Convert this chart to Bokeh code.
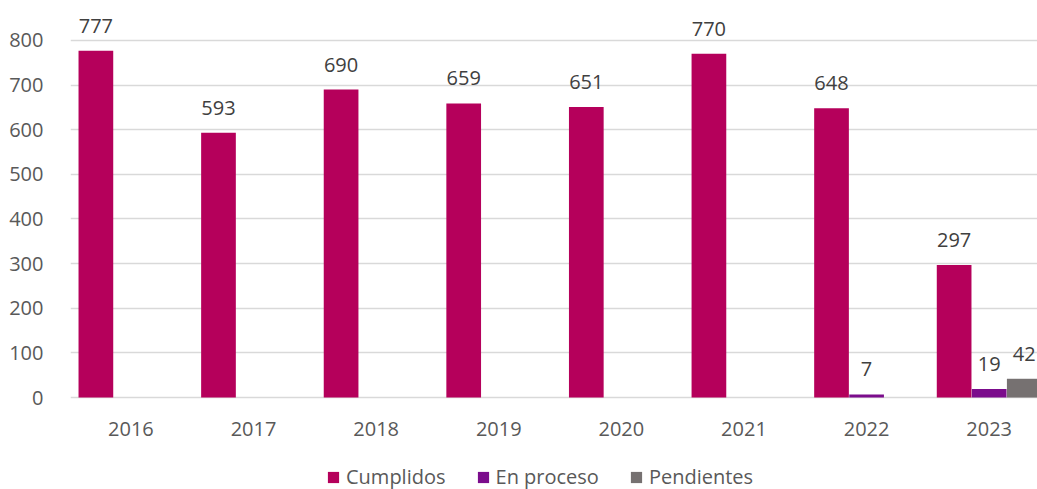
from bokeh.plotting import figure
from bokeh.models import ColumnDataSource, Range1d, FixedTicker, LabelSet, Legend, LegendItem
from bokeh.transform import dodge
from bokeh.core.properties import value
from bokeh.embed import file_html
from bokeh.resources import INLINE

years = ["2016", "2017", "2018", "2019", "2020", "2021", "2022", "2023"]
cumplidos = [777, 593, 690, 659, 651, 770, 648, 297]
en_proceso = [0, 0, 0, 0, 0, 0, 7, 19]
pendientes = [0, 0, 0, 0, 0, 0, 0, 42]
series_names = ["Cumplidos", "En proceso", "Pendientes"]
series_colors = ["#B5005B", "#7B0C8C", "#767171"]
y_ticks = [0, 100, 200, 300, 400, 500, 600, 700, 800]

FONT = "Open Sans"
TXT = "#595959"
idx = list(range(len(years)))
series = [cumplidos, en_proceso, pendientes]
offsets = [-0.286, 0.0, 0.286]
bar_w = 0.283

# frame spans the full figure height; the band below y=0 holds year labels and legend
p = figure(width=1037, height=489,
           x_range=Range1d(-0.493, 7.394), y_range=Range1d(-206.1, 889.5),
           output_backend="svg", toolbar_location=None,
           min_border_left=70, min_border_right=0, min_border_top=0, min_border_bottom=0)
p.outline_line_color = None
p.background_fill_color = "white"
p.border_fill_color = "white"

renderers = []
for name, vals, col, off in zip(series_names, series, series_colors, offsets):
    src = ColumnDataSource(dict(x=idx, v=vals))
    r = p.vbar(x=dodge("x", off), top="v", bottom=0, width=bar_w, source=src,
               fill_color=col, line_color=None)
    renderers.append(r)
    nz = [i for i, v in enumerate(vals) if v != 0]
    lsrc = ColumnDataSource(dict(x=[idx[i] for i in nz], v=[vals[i] for i in nz],
                                 t=[str(vals[i]) for i in nz]))
    lab = LabelSet(x=dodge("x", off), y="v", text="t", source=lsrc,
                   text_align="center", text_baseline="alphabetic", y_offset=18,
                   text_font=value(FONT), text_font_size=value("20px"), text_color="#404040")
    p.add_layout(lab)

# category labels (x axis)
ysrc = ColumnDataSource(dict(x=idx, y=[0] * len(idx), t=years))
p.add_layout(LabelSet(x="x", y="y", text="t", source=ysrc,
                      text_align="center", text_baseline="alphabetic", y_offset=-38,
                      text_font=value(FONT), text_font_size=value("20px"), text_color=TXT))
p.xaxis.visible = False

# y axis
p.yaxis.ticker = FixedTicker(ticks=y_ticks)
ax = p.yaxis[0]
ax.axis_line_color = None
ax.major_tick_line_color = None
ax.minor_tick_line_color = None
ax.major_label_text_font = FONT
ax.major_label_text_font_size = "20px"
ax.major_label_text_color = TXT
ax.major_label_standoff = 21

p.xgrid.grid_line_color = None
p.ygrid.ticker = FixedTicker(ticks=y_ticks)
p.ygrid.grid_line_color = "#D9D9D9"
p.ygrid.grid_line_width = 1.3

legend = Legend(items=[LegendItem(label=n, renderers=[r]) for n, r in zip(series_names, renderers)],
                location=(256, -1), orientation="horizontal",
                glyph_width=14, glyph_height=14, label_standoff=6, spacing=30,
                padding=0, margin=0, border_line_color=None, background_fill_alpha=0,
                label_text_font=FONT, label_text_font_size="20px", label_text_color=TXT)
p.add_layout(legend)

open("out.html", "w").write(file_html(p, INLINE))
